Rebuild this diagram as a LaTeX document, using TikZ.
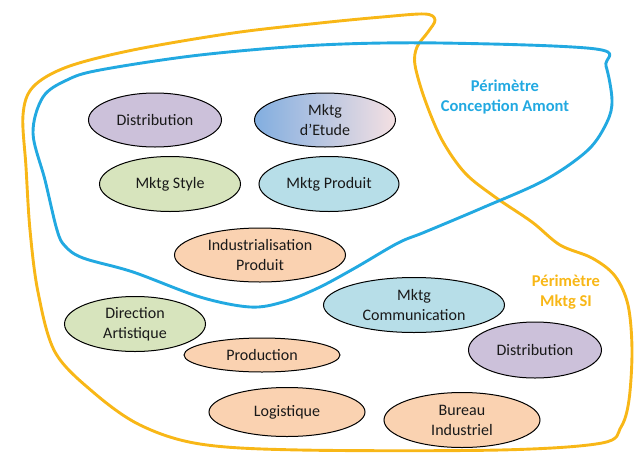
\documentclass[tikz,border=0pt]{standalone}
\usepackage{fontspec}
\setmainfont{Carlito}
\usetikzlibrary{shapes.geometric}
\definecolor{perimblue}{HTML}{22A9E1}
\definecolor{perimorange}{HTML}{F8B717}
\definecolor{violet}{HTML}{CCC1DA}
\definecolor{vert}{HTML}{D7E4BD}
\definecolor{bleu}{HTML}{B7DEE8}
\definecolor{peche}{HTML}{FAD2B1}
\definecolor{etudeleft}{HTML}{82AEE0}
\definecolor{etuderight}{HTML}{F4E0E2}
\tikzset{
    metier/.style={draw=black,line width=1pt,ellipse,inner sep=0pt,align=center,
        font=\fontsize{16}{20}\selectfont,text=black!90},
    perim/.style={line width=2.9pt,line join=round},
    perimlabel/.style={align=center,font=\fontsize{16.5}{20}\selectfont\bfseries}
}
\begin{document}
\begin{tikzpicture}[x=1pt,y=-1pt]
        \useasboundingbox (0,0) rectangle (635,453);
        % perimetres
        \draw[perim,perimorange] plot[smooth cycle,tension=0.55] coordinates {
                (23,115) (33,87) (67,67) (133,50) (233,33) (320,23) (382,17) (425,14)
                (435,20) (428,32) (417,47) (415,65) (425,100) (442,140) (465,173)
                (495,197) (532,222) (560,245) (592,258) (615,276) (628,305) (632,350)
                (629,400) (621,427) (602,443) (500,450) (300,450) (200,444) (140,425)
                (93,392) (55,352) (38,292) (30,230) (26,167)};
        \draw[perim,perimblue] plot[smooth cycle,tension=0.55] coordinates {
                (33,133) (43,97) (67,80) (100,70) (200,55) (320,45) (440,43) (596,49)
                (606,66) (612,100) (607,122) (588,150) (545,180) (482,208) (425,232)
                (398,243) (355,268) (318,288) (283,302) (250,307) (200,297) (133,272)
                (83,258) (65,246) (57,230) (45,180)};
        \node[perimlabel,text=perimblue] (conception) at (505,97) {Périmètre\\Conception Amont};
        \node[perimlabel,text=perimorange] (mktgsi) at (566,292) {Périmètre\\Mktg SI};
        % metiers
        \node[metier,fill=violet,minimum width=133,minimum height=54] (dist1) at (155,120) {Distribution};
        \node[metier,left color=etudeleft,right color=etuderight,minimum width=141,minimum height=54] (etude) at (325,120) {Mktg\\d’Etude};
        \node[metier,fill=vert,minimum width=141,minimum height=55] (style) at (170,184) {Mktg Style};
        \node[metier,fill=bleu,minimum width=140,minimum height=55] (produit) at (329,184) {Mktg Produit};
        \node[metier,fill=peche,minimum width=171,minimum height=54] (indus) at (260,255) {Industrialisation\\Produit};
        \node[metier,fill=vert,minimum width=141,minimum height=55] (direction) at (135,324) {Direction\\Artistique};
        \node[metier,fill=bleu,minimum width=181,minimum height=55] (comm) at (414,305) {Mktg\\Communication};
        \node[metier,fill=peche,minimum width=156,minimum height=34] (production) at (262,355) {Production};
        \node[metier,fill=violet,minimum width=133,minimum height=56] (dist2) at (535,350) {Distribution};
        \node[metier,fill=peche,minimum width=156,minimum height=49] (logistique) at (287,412) {Logistique};
        \node[metier,fill=peche,minimum width=156,minimum height=55] (bureau) at (462,420) {Bureau\\Industriel};
    \end{tikzpicture}
\end{document}
